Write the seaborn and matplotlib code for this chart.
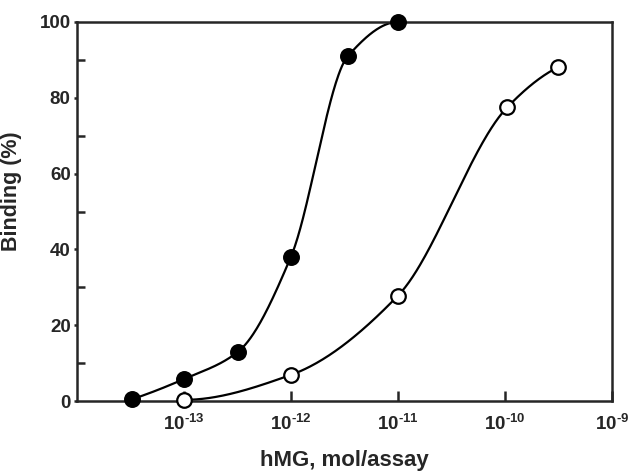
import numpy as np
import pandas as pd
import matplotlib
matplotlib.use("Agg")
import matplotlib.pyplot as plt
import seaborn as sns
from matplotlib.ticker import FixedLocator, NullFormatter

# ---- data ----
filled_x = [3.3e-14, 1.0e-13, 3.2e-13, 1.0e-12, 3.4e-12, 1.0e-11]
filled_y = [0.5, 5.8, 13.0, 38.1, 91.0, 100.0]
open_x = [1.0e-13, 1.0e-12, 1.0e-11, 1.05e-10, 3.1e-10]
open_y = [0.3, 6.9, 27.8, 77.5, 88.0]
xtick_vals = [1e-13, 1e-12, 1e-11, 1e-10, 1e-9]
xtick_labels = [r"$10^{\text{-13}}$", r"$10^{\text{-12}}$", r"$10^{\text{-11}}$",
                r"$10^{\text{-10}}$", r"$10^{\text{-9}}$"]
ytick_vals = [0, 20, 40, 60, 80, 100]
yminor_vals = [10, 30, 50, 70, 90]


def pchip(xs, ys, xq):
    """Monotone cubic (Fritsch-Carlson) interpolation."""
    xs = np.asarray(xs, float); ys = np.asarray(ys, float)
    h = np.diff(xs); d = np.diff(ys) / h
    n = len(xs); m = np.zeros(n)
    for k in range(1, n - 1):
        if d[k - 1] * d[k] > 0:
            w1 = 2 * h[k] + h[k - 1]; w2 = h[k] + 2 * h[k - 1]
            m[k] = (w1 + w2) / (w1 / d[k - 1] + w2 / d[k])
    def endslope(h0, h1, d0, d1):
        s = ((2 * h0 + h1) * d0 - h0 * d1) / (h0 + h1)
        if np.sign(s) != np.sign(d0):
            s = 0.0
        elif np.sign(d0) != np.sign(d1) and abs(s) > abs(3 * d0):
            s = 3 * d0
        return s
    m[0] = endslope(h[0], h[1], d[0], d[1])
    m[-1] = endslope(h[-1], h[-2], d[-1], d[-2])
    idx = np.clip(np.searchsorted(xs, xq) - 1, 0, n - 2)
    t = (xq - xs[idx]) / h[idx]
    h00 = 2 * t**3 - 3 * t**2 + 1; h10 = t**3 - 2 * t**2 + t
    h01 = -2 * t**3 + 3 * t**2; h11 = t**3 - t**2
    return h00 * ys[idx] + h10 * h[idx] * m[idx] + h01 * ys[idx + 1] + h11 * h[idx] * m[idx + 1]


def smooth(xs, ys):
    lx = np.log10(xs)
    q = np.linspace(lx[0], lx[-1], 300)
    return pd.DataFrame({"x": 10 ** q, "y": pchip(lx, ys, q)})


sns.set_style("ticks")
plt.rcParams["font.family"] = ["Liberation Sans", "DejaVu Sans"]
plt.rcParams["font.weight"] = "bold"
plt.rcParams["mathtext.fontset"] = "custom"
plt.rcParams["mathtext.rm"] = "Liberation Sans:bold"
plt.rcParams["mathtext.it"] = "Liberation Sans:bold"
plt.rcParams["mathtext.bf"] = "Liberation Sans:bold"
plt.rcParams["mathtext.default"] = "rm"

fig = plt.figure(figsize=(6.28, 4.74), dpi=100)
ax = fig.add_axes([77 / 628, 73 / 474, 535 / 628, 379 / 474])

cf = smooth(filled_x, filled_y)
co = smooth(open_x, open_y)
sns.lineplot(data=cf, x="x", y="y", ax=ax, color="black", lw=1.6, zorder=2)
sns.lineplot(data=co, x="x", y="y", ax=ax, color="black", lw=1.6, zorder=2)

df_f = pd.DataFrame({"x": filled_x, "y": filled_y})
df_o = pd.DataFrame({"x": open_x, "y": open_y})
sns.scatterplot(data=df_f, x="x", y="y", ax=ax, color="black", edgecolor="black",
                s=125, linewidth=1, zorder=3, clip_on=False)
sns.scatterplot(data=df_o, x="x", y="y", ax=ax, facecolor="white", edgecolor="black",
                s=110, linewidth=1.6, zorder=3, clip_on=False)

ax.set_xscale("log")
ax.set_xlim(1e-14, 1e-9)
ax.set_ylim(0, 100)

ax.xaxis.set_major_locator(FixedLocator(xtick_vals))
ax.set_xticklabels(xtick_labels)
ax.xaxis.set_minor_locator(FixedLocator([]))
ax.xaxis.set_minor_formatter(NullFormatter())
ax.tick_params(axis="x", which="major", direction="in", length=7, width=1.8,
               pad=9, labelsize=13.5)

ax.yaxis.set_major_locator(FixedLocator(ytick_vals))
ax.yaxis.set_minor_locator(FixedLocator(yminor_vals))
ax.tick_params(axis="y", which="major", direction="out", length=2.5, width=1.8,
               pad=2, labelsize=13.5)
ax.tick_params(axis="y", which="minor", direction="in", length=5.5, width=1.8)

for s in ax.spines.values():
    s.set_linewidth(1.8)
    s.set_visible(True)

ax.set_xlabel("hMG, mol/assay", fontsize=16, fontweight="bold", labelpad=12)
ax.set_ylabel("Binding (%)", fontsize=15.5, fontweight="bold")
ax.yaxis.set_label_coords(-0.103, 0.554)

fig.savefig("out.png", dpi=100)
